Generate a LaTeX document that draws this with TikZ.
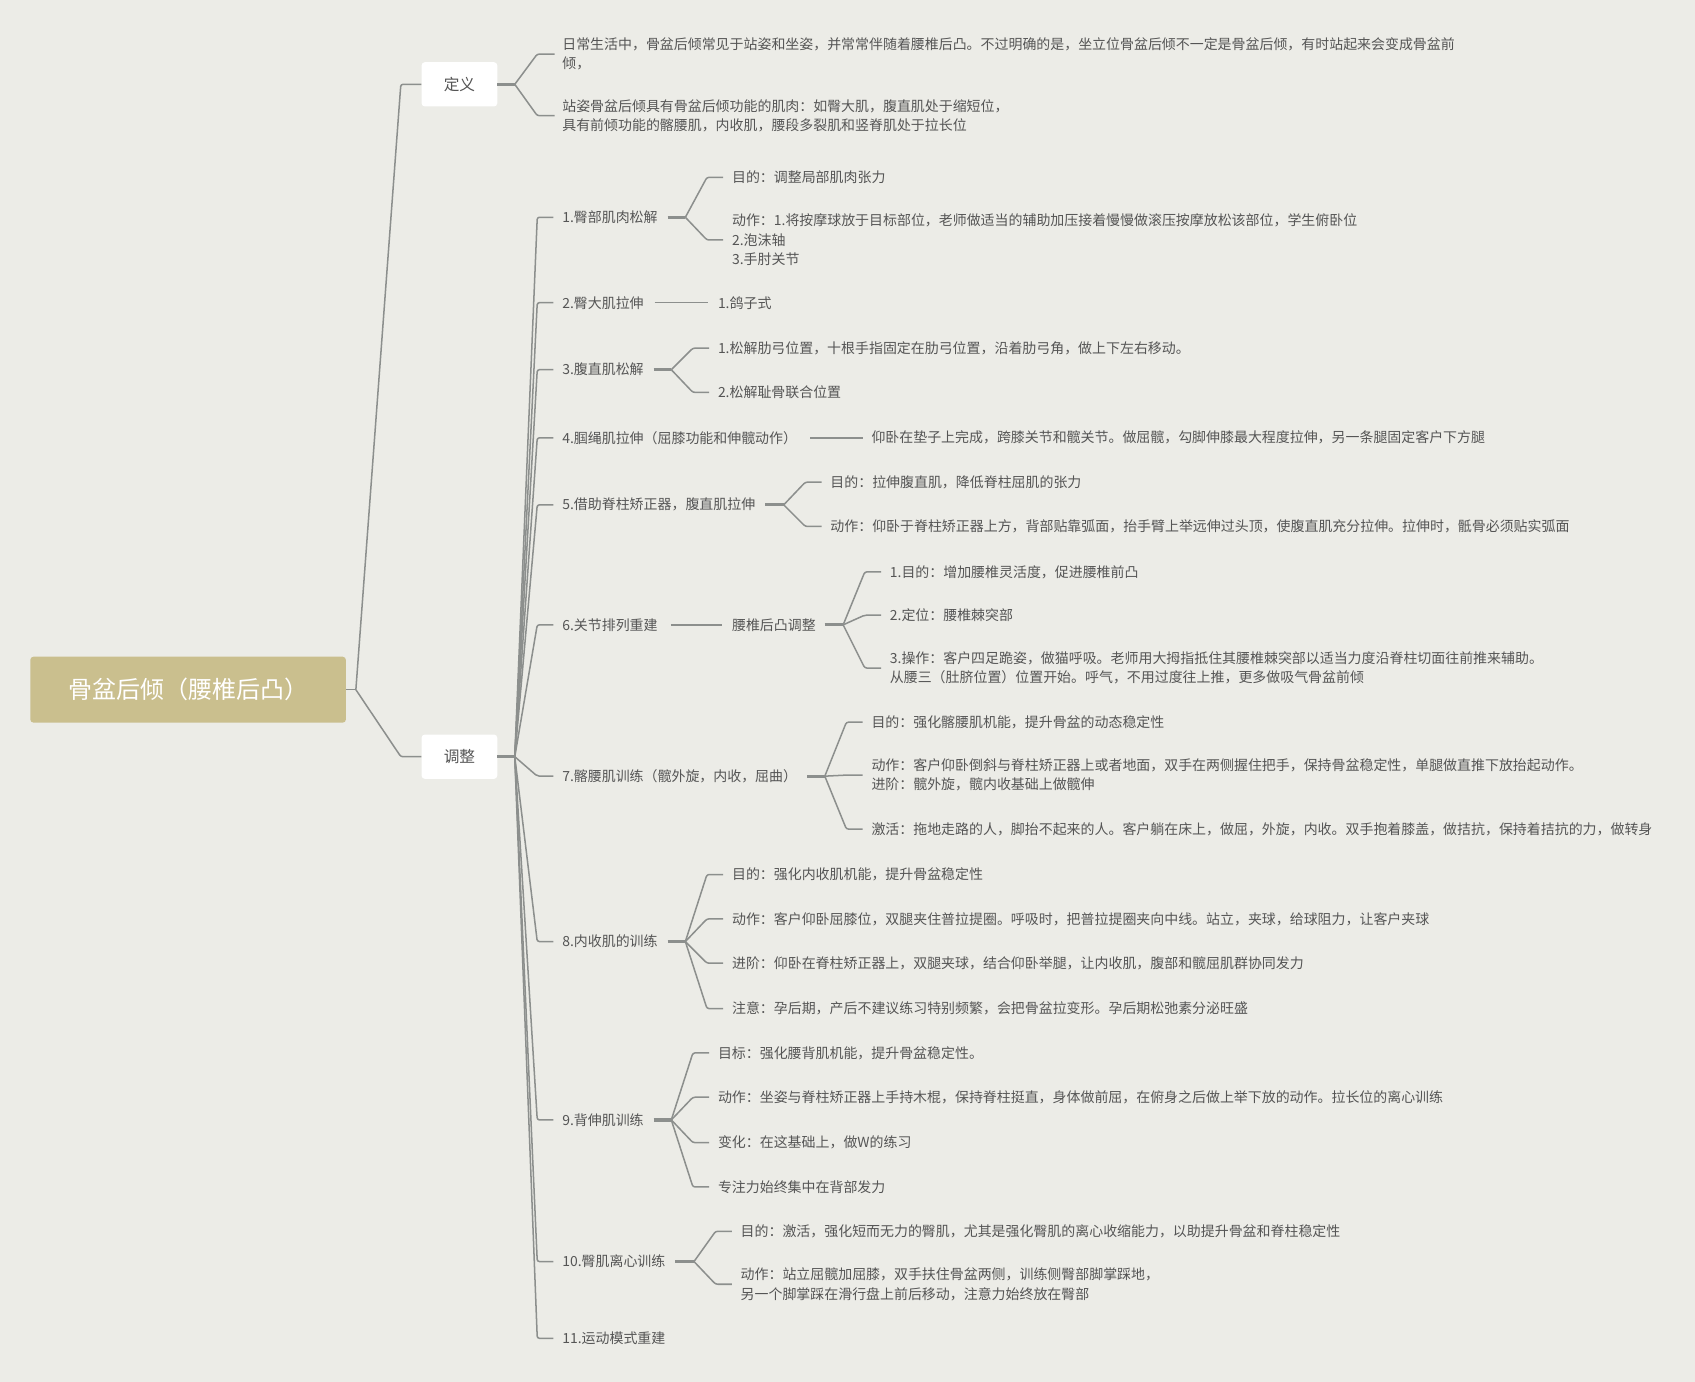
\documentclass[tikz,border=0pt]{standalone}
\usepackage{fontspec}
\setmainfont{Noto Sans CJK SC}
\usetikzlibrary{calc}
\definecolor{bgc}{RGB}{236,236,231}
\definecolor{lc}{RGB}{140,143,141}
\definecolor{tc}{RGB}{85,85,85}
\definecolor{rootc}{RGB}{202,191,142}
\tikzset{
  lnk/.style={draw=lc, line width=1.4pt, line join=round, rounded corners=2pt},
  stubk/.style={draw=lc, line width=3pt},
  txt/.style={anchor=west, inner sep=0pt, align=left, text=tc, font=\fontsize{12.9}{18}\selectfont},
  boxn/.style={fill=white, rounded corners=3pt, minimum width=70pt, minimum height=41pt, inner sep=0pt, text=tc, font=\fontsize{14.5}{16}\selectfont},
  rootn/.style={fill=rootc, rounded corners=3pt, minimum width=292pt, minimum height=61pt, inner sep=0pt, text=white, font=\fontsize{22.2}{24}\selectfont}
}
\begin{document}
\begin{tikzpicture}[x=1pt,y=-1pt]
\useasboundingbox (0,0) rectangle (1568,1278);
\fill[bgc] (0,0) rectangle (1568,1278);

% main nodes
\node[rootn] (root) at (174,638) {骨盆后倾（腰椎后凸）};
\node[boxn] (def) at (425,78) {定义};
\node[boxn] (adj) at (425,700) {调整};

% definition children
\node[txt] (d1) at (520,50) {日常生活中，骨盆后倾常见于站姿和坐姿，并常常伴随着腰椎后凸。不过明确的是，坐立位骨盆后倾不一定是骨盆后倾，有时站起来会变成骨盆前\\倾，};
\node[txt] (d2) at (520,107) {站姿骨盆后倾具有骨盆后倾功能的肌肉：如臀大肌，腹直肌处于缩短位，\\具有前倾功能的髂腰肌，内收肌，腰段多裂肌和竖脊肌处于拉长位};

% adjustment children
\node[txt] (a1) at (520,201) {1.臀部肌肉松解};
\node[txt] (a2) at (520,280) {2.臀大肌拉伸};
\node[txt] (a3) at (520,342) {3.腹直肌松解};
\node[txt] (a4) at (520,405) {4.腘绳肌拉伸（屈膝功能和伸髋动作）};
\node[txt] (a5) at (520,467) {5.借助脊柱矫正器，腹直肌拉伸};
\node[txt] (a6) at (520,578) {6.关节排列重建};
\node[txt] (a7) at (520,718) {7.髂腰肌训练（髋外旋，内收，屈曲）};
\node[txt] (a8) at (520,871) {8.内收肌的训练};
\node[txt] (a9) at (520,1036) {9.背伸肌训练};
\node[txt] (a10) at (520,1167) {10.臀肌离心训练};
\node[txt] (a11) at (520,1238) {11.运动模式重建};

% level 2
\node[txt] (b11) at (677,164) {目的：调整局部肌肉张力};
\node[txt] (b12) at (677,222) {动作：1.将按摩球放于目标部位，老师做适当的辅助加压接着慢慢做滚压按摩放松该部位，学生俯卧位\\2.泡沫轴\\3.手肘关节};
\node[txt] (b21) at (664,280) {1.鸽子式};
\node[txt] (b31) at (664,322) {1.松解肋弓位置，十根手指固定在肋弓位置，沿着肋弓角，做上下左右移动。};
\node[txt] (b32) at (664,363) {2.松解耻骨联合位置};
\node[txt] (b41) at (806,405) {仰卧在垫子上完成，跨膝关节和髋关节。做屈髋，勾脚伸膝最大程度拉伸，另一条腿固定客户下方腿};
\node[txt] (b51) at (768,446) {目的：拉伸腹直肌，降低脊柱屈肌的张力};
\node[txt] (b52) at (768,487) {动作：仰卧于脊柱矫正器上方，背部贴靠弧面，抬手臂上举远伸过头顶，使腹直肌充分拉伸。拉伸时，骶骨必须贴实弧面};
\node[txt] (b61) at (677,578) {腰椎后凸调整};
\node[txt] (c1) at (823,529) {1.目的：增加腰椎灵活度，促进腰椎前凸};
\node[txt] (c2) at (823,569) {2.定位：腰椎棘突部};
\node[txt] (c3) at (823,618) {3.操作：客户四足跪姿，做猫呼吸。老师用大拇指抵住其腰椎棘突部以适当力度沿脊柱切面往前推来辅助。\\从腰三（肚脐位置）位置开始。呼气，不用过度往上推，更多做吸气骨盆前倾};
\node[txt] (b71) at (806,668) {目的：强化髂腰肌机能，提升骨盆的动态稳定性};
\node[txt] (b72) at (806,717) {动作：客户仰卧倒斜与脊柱矫正器上或者地面，双手在两侧握住把手，保持骨盆稳定性，单腿做直推下放抬起动作。\\进阶：髋外旋，髋内收基础上做髋伸};
\node[txt] (b73) at (806,767) {激活：拖地走路的人，脚抬不起来的人。客户躺在床上，做屈，外旋，内收。双手抱着膝盖，做拮抗，保持着拮抗的力，做转身};
\node[txt] (b81) at (677,809) {目的：强化内收肌机能，提升骨盆稳定性};
\node[txt] (b82) at (677,850) {动作：客户仰卧屈膝位，双腿夹住普拉提圈。呼吸时，把普拉提圈夹向中线。站立，夹球，给球阻力，让客户夹球};
\node[txt] (b83) at (677,891) {进阶：仰卧在脊柱矫正器上，双腿夹球，结合仰卧举腿，让内收肌，腹部和髋屈肌群协同发力};
\node[txt] (b84) at (677,933) {注意：孕后期，产后不建议练习特别频繁，会把骨盆拉变形。孕后期松弛素分泌旺盛};
\node[txt] (b91) at (664,974) {目标：强化腰背肌机能，提升骨盆稳定性。};
\node[txt] (b92) at (664,1015) {动作：坐姿与脊柱矫正器上手持木棍，保持脊柱挺直，身体做前屈，在俯身之后做上举下放的动作。拉长位的离心训练};
\node[txt] (b93) at (664,1057) {变化：在这基础上，做W的练习};
\node[txt] (b94) at (664,1098) {专注力始终集中在背部发力};
\node[txt] (b101) at (685,1139) {目的：激活，强化短而无力的臀肌，尤其是强化臀肌的离心收缩能力，以助提升骨盆和脊柱稳定性};
\node[txt] (b102) at (685,1188) {动作：站立屈髋加屈膝，双手扶住骨盆两侧，训练侧臀部脚掌踩地，\\另一个脚掌踩在滑行盘上前后移动，注意力始终放在臀部};

% root connectors
\coordinate (rf) at ($(root.east)+(9,0)$);
\draw[lnk] (root.east) -- (rf);
\draw[lnk] (rf) -- ($(def.west)+(-19,0)$) -- (def.west);
\draw[lnk] (rf) -- ($(adj.west)+(-19,0)$) -- (adj.west);

% definition fork
\coordinate (fdef) at ($(def.east)+(16,0)$);
\draw[stubk] (def.east) -- (fdef);
\foreach \c in {d1,d2}
  \draw[lnk] (fdef) -- ($(\c.west)+(-23,0)$) -- ($(\c.west)+(-7,0)$);

% adjustment fan
\coordinate (fadj) at ($(adj.east)+(16,0)$);
\draw[stubk] (adj.east) -- (fadj);
\foreach \c in {a1,a2,a3,a4,a5,a6,a7,a8,a9,a10,a11}
  \draw[lnk] (fadj) -- ($(\c.west)+(-23,0)$) -- ($(\c.west)+(-8,0)$);

% forks level 2
\coordinate (fa1) at ($(a1.east -| b11.west)+(-43,0)$);
\draw[stubk] ($(a1.east)+(9,0)$) -- (fa1);
\foreach \c in {b11,b12}
  \draw[lnk] (fa1) -- ($(\c.west)+(-23,0)$) -- ($(\c.west)+(-8,0)$);

\draw[lnk] ($(a2.east)+(10,0)$) -- ($(b21.west)+(-9,0)$);

\coordinate (fa3) at ($(a3.east -| b31.west)+(-43,0)$);
\draw[stubk] ($(a3.east)+(9,0)$) -- (fa3);
\foreach \c in {b31,b32}
  \draw[lnk] (fa3) -- ($(\c.west)+(-23,0)$) -- ($(\c.west)+(-8,0)$);

\draw[lnk] ($(a4.east)+(12,0)$) -- ($(b41.west)+(-8,0)$);

\coordinate (fa5) at ($(a5.east -| b51.west)+(-43,0)$);
\draw[stubk] ($(a5.east)+(9,0)$) -- (fa5);
\foreach \c in {b51,b52}
  \draw[lnk] (fa5) -- ($(\c.west)+(-23,0)$) -- ($(\c.west)+(-8,0)$);

\draw[lnk] ($(a6.east)+(12,0)$) -- ($(b61.west)+(-9,0)$);

\coordinate (fb6) at ($(b61.east -| c1.west)+(-43,0)$);
\draw[stubk] ($(b61.east)+(8,0)$) -- (fb6);
\foreach \c in {c1,c2,c3}
  \draw[lnk] (fb6) -- ($(\c.west)+(-23,0)$) -- ($(\c.west)+(-8,0)$);

\coordinate (fa7) at ($(a7.east -| b71.west)+(-43,0)$);
\draw[stubk] ($(a7.east)+(9,0)$) -- (fa7);
\foreach \c in {b71,b72,b73}
  \draw[lnk] (fa7) -- ($(\c.west)+(-23,0)$) -- ($(\c.west)+(-8,0)$);

\coordinate (fa8) at ($(a8.east -| b81.west)+(-43,0)$);
\draw[stubk] ($(a8.east)+(9,0)$) -- (fa8);
\foreach \c in {b81,b82,b83,b84}
  \draw[lnk] (fa8) -- ($(\c.west)+(-23,0)$) -- ($(\c.west)+(-8,0)$);

\coordinate (fa9) at ($(a9.east -| b91.west)+(-43,0)$);
\draw[stubk] ($(a9.east)+(9,0)$) -- (fa9);
\foreach \c in {b91,b92,b93,b94}
  \draw[lnk] (fa9) -- ($(\c.west)+(-23,0)$) -- ($(\c.west)+(-8,0)$);

\coordinate (fa10) at ($(a10.east -| b101.west)+(-43,0)$);
\draw[stubk] ($(a10.east)+(9,0)$) -- (fa10);
\foreach \c in {b101,b102}
  \draw[lnk] (fa10) -- ($(\c.west)+(-23,0)$) -- ($(\c.west)+(-8,0)$);
\end{tikzpicture}
\end{document}
